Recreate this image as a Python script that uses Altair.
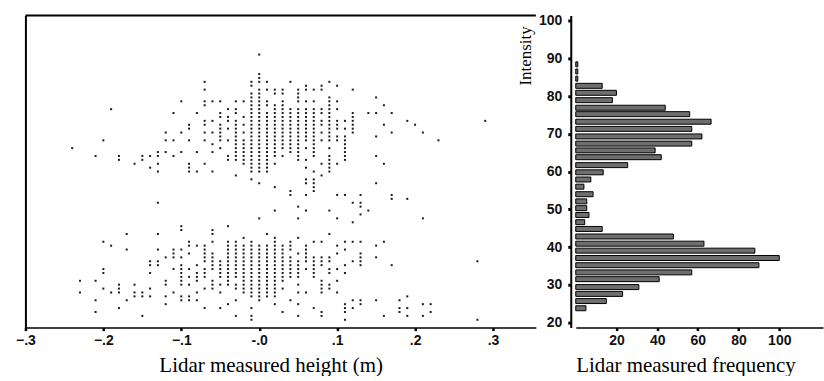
import altair as alt
import pandas as pd

# ---------------- data ----------------
# Scatter: each row = one intensity value, with the lidar heights (in cm) observed at it
intensity_rows = [90, 85, 84, 83, 82, 81, 80, 79, 78, 77, 76, 75, 74, 73, 72, 71, 70, 69, 68, 67,
                  66, 65, 64, 63, 62, 61, 60, 59, 58, 57, 56, 55, 54, 53, 52, 51, 50, 49, 48, 47,
                  46, 45, 44, 43, 42, 41, 40, 39, 38, 37, 36, 35, 34, 33, 32, 31, 30, 29, 28, 27,
                  26, 25, 24, 23, 22]
height_cm_rows = [
    [0], [0], [0],
    [-7, -1, 0, 1, 4, 9],
    [-1, 6, 8, 10],
    [-7, 0, 1, 2, 3, 5, 6, 7, 8, 12],
    [-1, 0, 2, 3, 5],
    [-1, 0, 5, 9, 15],
    [-10, -7, -6, -5, -3, -2, -1, 0, 1, 3, 5, 6, 7, 9, 10],
    [-7, -1, 0, 1, 2, 3, 9, 16],
    [-19, -4, -3, -1, 0, 2, 3, 4, 5, 6, 7, 8, 9, 10],
    [-11, -8, -5, -3, -1, 0, 1, 2, 3, 4, 5, 6, 7, 8, 9, 12, 14, 15, 17],
    [-5, -4, -2, -1, 0, 1, 2, 3, 4, 5, 6, 7, 9, 12],
    [-7, -6, -4, -3, -1, 0, 1, 2, 3, 4, 5, 6, 7, 8, 9, 10, 11, 12, 19, 29],
    [-9, -7, -5, -3, -2, -1, 0, 1, 2, 3, 4, 5, 6, 7, 8, 9, 10, 12, 16, 20],
    [-9, -5, -4, -3, -1, 0, 1, 2, 3, 4, 5, 6, 7, 9, 10, 11, 12],
    [-12, -10, -7, -6, -5, -3, -2, -1, 0, 1, 2, 3, 4, 5, 6, 7, 8, 9, 12, 17, 21],
    [-5, -3, -1, 0, 1, 2, 3, 4, 5, 6, 7, 9, 10, 11, 15],
    [-20, -12, -11, -9, -7, -5, -4, -3, -2, -1, 0, 1, 2, 3, 4, 5, 6, 7, 8, 9, 10, 11, 23],
    [-6, -3, -2, -1, 0, 1, 2, 3, 4, 5, 7, 11],
    [-24, -5, -3, -2, -1, 0, 1, 2, 3, 4, 5, 6, 7, 9, 11],
    [-13, -12, -10, -8, -6, -3, -2, -1, 0, 1, 2, 4, 5, 7, 11],
    [-21, -18, -15, -14, -13, -11, -4, -3, -2, -1, 0, 1, 2, 3, 5, 7, 9, 11, 15],
    [-18, -15, -4, -3, -2, -1, 0, 1, 5, 6, 9, 11],
    [-16, -13, -9, -7, -2, -1, 0, 1, 2, 8, 9, 10, 16],
    [-14, -9, -1, 0, 1, 6, 9],
    [-13, -9, -8, -6, -1, 0, 1, 7, 9],
    [-3, 8],
    [-1, 6, 7],
    [0, 6, 7, 15],
    [2, 7],
    [4, 7],
    [4, 6, 10, 11, 13, 17],
    [17, 19],
    [-13, 12, 13],
    [5, 13],
    [2, 6, 9, 14],
    [13],
    [0, 5, 10, 21],
    [12],
    [-10, -4],
    [-10, -6],
    [-17, -13, -6, 1, 9],
    [-2, 2, 5],
    [-20, -9, -6, -4, -3, -1, 2, 4, 7, 8, 11, 12, 13, 16],
    [-19, -9, -8, -7, -4, -3, -2, -1, 0, 1, 2, 3, 4, 6, 10, 15],
    [-17, -13, -11, -10, -7, -4, -3, -2, -1, 0, 1, 2, 3, 4, 6, 11],
    [-11, -9, -7, -6, -4, -3, -2, -1, 0, 1, 2, 3, 5, 6, 10, 13],
    [-12, -11, -10, -7, -6, -4, -3, -2, -1, 0, 1, 2, 3, 4, 6, 7, 8, 9, 13, 15],
    [-14, -13, -7, -6, -5, -4, -3, -2, -1, 0, 1, 2, 3, 4, 5, 6, 7, 8, 9, 12, 13, 28],
    [-14, -13, -10, -8, -6, -5, -4, -3, -2, -1, 0, 1, 2, 3, 4, 5, 7, 8, 11, 13, 17],
    [-20, -11, -10, -9, -7, -6, -5, -4, -3, -2, -1, 0, 1, 2, 3, 4, 5, 6, 7, 9, 10],
    [-20, -14, -10, -8, -7, -5, -4, -3, -2, -1, 0, 1, 2, 3, 4, 5, 7, 9, 11],
    [-10, -9, -8, -7, -5, -4, -3, -2, -1, 0, 1, 2, 3, 4, 5, 7],
    [-23, -21, -12, -10, -8, -6, -4, -2, -1, 0, 1, 2, 3, 8, 10],
    [-18, -16, -12, -10, -9, -6, -5, -4, -3, -2, -1, 0, 1, 2, 5, 8, 9],
    [-20, -18, -14, -7, -6, -3, -2, -1, 0, 1, 2, 3, 8, 9],
    [-23, -19, -18, -16, -15, -11, -8, -5, -2, -1, 0, 1, 2, 5, 6, 8, 10],
    [-16, -15, -14, -12, -10, -9, -1, 0, 1, 2, 19],
    [-21, -17, -10, -9, -8, -3, 0, 4, 12, 13, 15, 18],
    [-12, -4, 2, 5, 11, 13, 21, 22],
    [-18, -7, -5, -1, 7, 11, 12, 18, 19],
    [-21, 3, 8, 11, 18, 22],
    [-15, -3, -1, 5, 8, 16, 19, 21],
    [-1, 11, 28],
]

# Histogram of intensity (bin centres and counts)
bin_intensity = [23.8, 25.7, 27.6, 29.4, 31.5, 33.3, 35.2, 37.1, 39.05, 40.9, 42.8, 44.8,
                 46.6, 48.5, 50.3, 52.1, 54.0, 56.0, 57.9, 59.8, 61.7, 63.8, 65.6, 67.4,
                 69.3, 71.3, 73.2, 75.2, 76.9, 78.9, 80.85, 82.7, 84.6, 86.5, 88.4]
bin_frequency = [5, 15, 23, 31, 41, 57, 90, 100, 88, 63, 48, 13,
                 4.4, 6.5, 5.4, 5.4, 8.5, 4, 7.4, 13.5, 25.5, 42, 39, 57,
                 62, 57, 66.5, 56, 44, 18, 20, 13, 1, 1, 1]

height_ticks = [-0.3, -0.2, -0.1, 0.0, 0.1, 0.2, 0.3]
intensity_ticks = [20, 30, 40, 50, 60, 70, 80, 90, 100]
frequency_ticks = [20, 40, 60, 80, 100]

# ---------------- tables ----------------
scatter_records = []
for inten, hs in zip(intensity_rows, height_cm_rows):
    for h in hs:
        scatter_records.append({"height": h / 100.0, "intensity": inten})
scatter_df = pd.DataFrame(scatter_records)
hist_df = pd.DataFrame({"intensity": bin_intensity, "frequency": bin_frequency})
top_df = pd.DataFrame({"intensity": [100]})

y_scale = alt.Scale(domain=[20, 100], nice=False, zero=False)

# ---------------- scatter panel ----------------
points = alt.Chart(scatter_df).mark_square(size=4, color="#1a1a1a", opacity=1).encode(
    x=alt.X("height:Q",
            scale=alt.Scale(domain=[-0.3, 0.355], nice=False, zero=False),
            axis=alt.Axis(values=height_ticks,
                          labelExpr="abs(datum.value) < 1e-9 ? '-.0' : replace(format(datum.value, '.1f'), '0.', '.')",
                          labelFlush=False,
                          title="Lidar measured height (m)",
                          titleX=246, titleY=38, titleAlign="center", titleBaseline="middle",
                          tickSize=3, tickWidth=2.5, labelPadding=3, domainWidth=1.5)),
    y=alt.Y("intensity:Q", scale=y_scale,
            axis=alt.Axis(labels=False, ticks=False, title=None, domainWidth=2)),
)
top_line = alt.Chart(top_df).mark_rule(color="black", strokeWidth=2).encode(
    y=alt.Y("intensity:Q", scale=y_scale)
)
scatter = alt.layer(points, top_line).properties(width=512, height=313)

# ---------------- histogram panel ----------------
hist = alt.Chart(hist_df).mark_bar(orient="horizontal", size=5, fill="#6e6e6e",
                                   stroke="black", strokeWidth=1).encode(
    x=alt.X("frequency:Q",
            scale=alt.Scale(domain=[0, 121.5], nice=False),
            axis=alt.Axis(values=frequency_ticks, title="Lidar measured frequency",
                          labelFlush=False,
                          titleX=110, titleY=38, titleAlign="center", titleBaseline="middle",
                          tickSize=3, tickWidth=2.5, labelPadding=3, domainWidth=1.5)),
    y=alt.Y("intensity:Q", scale=y_scale,
            axis=alt.Axis(values=intensity_ticks, title="Intensity", offset=5,
                          titleAngle=270, titleX=-45, titleY=40, titleAlign="center",
                          titleBaseline="middle", titleFontSize=17,
                          tickSize=3, tickWidth=3, labelPadding=6, domainWidth=2)),
).properties(width=248, height=313)

chart = alt.hconcat(scatter, hist, spacing=40, bounds="flush").configure(
    padding={"left": 15.5, "top": 12, "right": 1, "bottom": 0},
    background="white",
).configure_view(strokeWidth=0).configure_axis(
    grid=False,
    labelFont="Liberation Sans", labelFontSize=14, labelFontWeight="bold", labelColor="#111",
    titleFont="Liberation Serif", titleFontSize=21, titleFontWeight="normal", titleColor="black",
    domainColor="black", tickColor="black",
)

chart.save("out.html", embed_options={"renderer": "svg", "actions": False})
